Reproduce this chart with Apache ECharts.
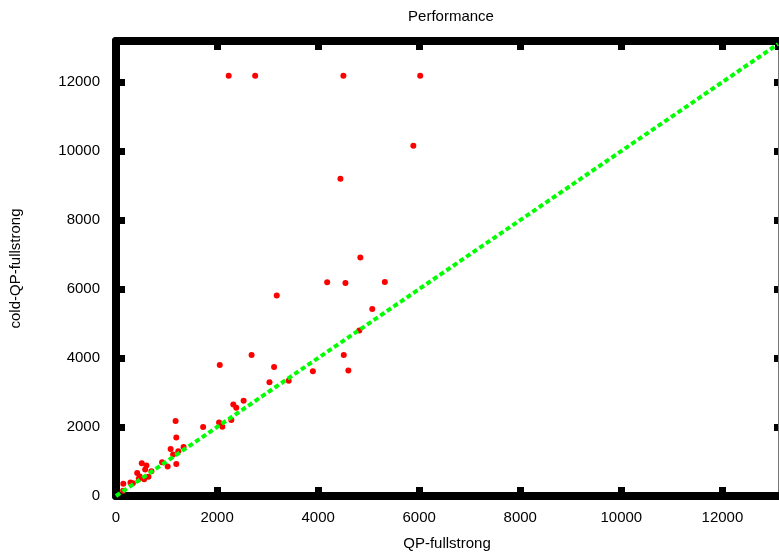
<!DOCTYPE html>
<html>
<head>
<meta charset="utf-8">
<script src="https://cdn.jsdelivr.net/npm/echarts@6/dist/echarts.min.js"></script>
<style>
html,body{margin:0;padding:0;background:#fff;}
#perfchart{width:779px;height:558px;}
</style>
</head>
<body>
<div id="perfchart"></div>
<script>
// QP-fullstrong (x) vs cold-QP-fullstrong (y)
var qpFullstrong = [2230,2754,4500,6020,5884,4441,4835,4179,4540,5320,
	3181,5071,4815,2683,4507,2053,3128,4598,3896,3417,3037,
	2525,2321,2380,2282,1179,2039,2104,1724,1193,1337,1081,1232,1130,911,1193,1022,
	510,602,577,701,419,470,642,451,557,287,333,144,140];
var coldQpFullstrong = [12180,12180,12180,12180,10150,9200,6917,6193,6175,6204,
	5815,5421,4801,4088,4088,3798,3740,3641,3613,3342,3294,
	2763,2656,2560,2203,2174,2134,2009,2000,1695,1420,1362,1300,1206,975,928,858,
	946,885,770,715,667,568,556,502,487,394,367,352,150];
var diagX = [0,13100];

var xMax = 13100;
var yMax = 13190;

var pts=[];
for(var i=0;i<qpFullstrong.length;i++){
	pts.push([qpFullstrong[i],coldQpFullstrong[i]]);
}
var diag=[];
for(var j=0;j<diagX.length;j++){
	diag.push([diagX[j],diagX[j]]);
}

var fnt = 'Liberation Sans, Arial, Helvetica, sans-serif';
function plain(v){ return String(v); }  // no thousands separator

var chart = echarts.init(document.getElementById('perfchart'));
var option = {
	animation:false,
	backgroundColor:'#fff',
	title:{
		text:'Performance',
		left:446,
		top:4,
		textAlign:'center',
		textStyle:{fontFamily:fnt,fontSize:15,fontWeight:'normal',color:'#000'}
	},
	grid:{left:114,right:1,top:41,bottom:62,containLabel:false},
	xAxis:[
		{
			type:'value',min:0,max:xMax,interval:2000,position:'bottom',
			name:'QP-fullstrong',nameLocation:'middle',nameGap:40,
			nameTextStyle:{fontFamily:fnt,fontSize:15,color:'#000'},
			axisLine:{show:true,onZero:false,lineStyle:{color:'#000',width:8}},
			axisTick:{show:true,inside:true,length:9,lineStyle:{color:'#000',width:7}},
			axisLabel:{fontFamily:fnt,fontSize:15,color:'#000',margin:14,showMaxLabel:false,formatter:plain},
			splitLine:{show:false}
		},
		{
			type:'value',min:0,max:xMax,interval:2000,position:'top',
			axisLine:{show:true,onZero:false,lineStyle:{color:'#000',width:8}},
			axisTick:{show:true,inside:true,length:9,lineStyle:{color:'#000',width:7}},
			axisLabel:{show:false},
			splitLine:{show:false}
		}
	],
	yAxis:[
		{
			type:'value',min:0,max:yMax,interval:2000,position:'left',
			name:'cold-QP-fullstrong',nameLocation:'middle',nameGap:93,
			nameTextStyle:{fontFamily:fnt,fontSize:15,color:'#000'},
			axisLine:{show:true,onZero:false,lineStyle:{color:'#000',width:8}},
			axisTick:{show:true,inside:true,length:9,lineStyle:{color:'#000',width:7}},
			axisLabel:{fontFamily:fnt,fontSize:15,color:'#000',margin:16,showMaxLabel:false,formatter:plain},
			splitLine:{show:false}
		},
		{
			type:'value',min:0,max:yMax,interval:2000,position:'right',
			axisLine:{show:true,onZero:false,lineStyle:{color:'#777',width:1}},
			axisTick:{show:true,inside:true,length:4,lineStyle:{color:'#000',width:7}},
			axisLabel:{show:false},
			splitLine:{show:false}
		}
	],
	series:[
		{
			name:'points',
			type:'scatter',
			xAxisIndex:0,yAxisIndex:0,
			symbol:'circle',
			symbolSize:6,
			itemStyle:{color:'#ff0000',opacity:1},
			data:pts,
			z:2
		},
		{
			name:'diag',
			type:'line',
			xAxisIndex:0,yAxisIndex:0,
			symbol:'none',
			lineStyle:{color:'#00ff00',width:4,type:[5,3]},
			data:diag,
			z:3
		}
	]
};
chart.setOption(option);
</script>
</body>
</html>
